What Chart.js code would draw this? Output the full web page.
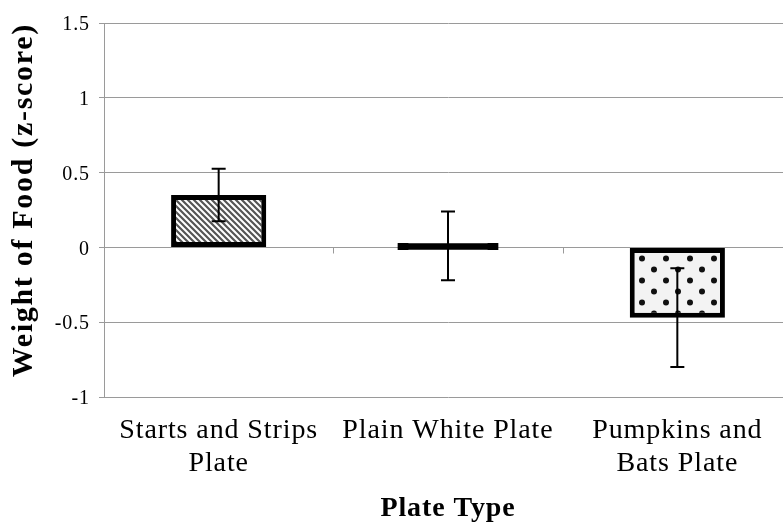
<!DOCTYPE html>
<html><head><meta charset="utf-8">
<script src="https://cdn.jsdelivr.net/npm/chart.js@4.4.0/dist/chart.umd.min.js"></script>
<style>
html,body{margin:0;padding:0;overflow:hidden;background:#fff;width:783px;height:524px}
#wrap{width:792px;height:524px}
</style></head>
<body><div id="wrap"><canvas id="c" width="792" height="524"></canvas></div>
<script>
// ---- data ----
const categories = [["Starts and Strips", "Plate"], ["Plain White Plate"], ["Pumpkins and", "Bats Plate"]];
const means = [0.35, 0.01, -0.47];
const errors = [0.175, 0.23, 0.33];
const yTicks = [-1, -0.5, 0, 0.5, 1, 1.5];
const yTickLabels = ["-1", "-0.5", "0", "0.5", "1", "1.5"];
const xTitle = "Plate Type";
const yTitle = "Weight of Food (z-score)";

// ---- fills ----
function stripePattern() {
  const c = document.createElement('canvas'); c.width = 6; c.height = 6;
  const g = c.getContext('2d');
  g.fillStyle = '#fff'; g.fillRect(0, 0, 6, 6);
  g.strokeStyle = '#555'; g.lineWidth = 2.2;
  g.beginPath();
  g.moveTo(-3, -3); g.lineTo(9, 9);
  g.moveTo(-3, 3); g.lineTo(3, 9);
  g.moveTo(3, -3); g.lineTo(9, 3);
  g.stroke();
  return g.createPattern(c, 'repeat');
}
function dotPattern() {
  const c = document.createElement('canvas'); c.width = 24; c.height = 22;
  const g = c.getContext('2d');
  g.fillStyle = '#f3f3f3'; g.fillRect(0, 0, 24, 22);
  g.fillStyle = '#111';
  [[6, 5.5], [18, 16.5], [30, 16.5], [-6, 16.5], [18, -5.5], [6, 27.5]].forEach(([x, y]) => {
    g.beginPath(); g.arc(x, y, 3, 0, Math.PI * 2); g.fill();
  });
  return g.createPattern(c, 'repeat');
}

const GRID = '#9a9a9a';

const errorBars = {
  id: 'errorBars',
  afterDatasetsDraw(chart) {
    const meta = chart.getDatasetMeta(0);
    const ys = chart.scales.y;
    const ctx = chart.ctx;
    ctx.save();
    ctx.strokeStyle = '#000';
    ctx.lineWidth = 2;
    meta.data.forEach((bar, i) => {
      const x = bar.x;
      const yt = ys.getPixelForValue(means[i] + errors[i]);
      const yb = ys.getPixelForValue(means[i] - errors[i]);
      ctx.beginPath();
      ctx.moveTo(x, yt); ctx.lineTo(x, yb);
      ctx.moveTo(x - 7, yt); ctx.lineTo(x + 7, yt);
      ctx.moveTo(x - 7, yb); ctx.lineTo(x + 7, yb);
      ctx.stroke();
    });
    ctx.restore();
  }
};

const zeroTicks = {
  id: 'zeroTicks',
  afterDraw(chart) {
    const xs = chart.scales.x, ys = chart.scales.y, ctx = chart.ctx;
    const y0 = Math.round(ys.getPixelForValue(0)) + 0.5;
    ctx.save();
    ctx.strokeStyle = GRID; ctx.lineWidth = 1;
    ctx.beginPath();
    for (let i = 0; i < categories.length - 1; i++) {
      const xb = Math.round((xs.getPixelForTick(i) + xs.getPixelForTick(i + 1)) / 2) + 0.5;
      ctx.moveTo(xb, y0); ctx.lineTo(xb, y0 + 6);
    }
    ctx.stroke();
    ctx.restore();
  }
};

// text tracking (the reference's serif text is slightly more widely spaced)
const tracking = {
  id: 'tracking',
  beforeDraw(chart) {
    chart.ctx.letterSpacing = '0.9px';
    const ys = chart.scales.y;
    if (ys && !ys._wrappedTitle) {
      const orig = ys.drawTitle;
      ys.drawTitle = function () {
        const ctx = this.ctx;
        const prev = ctx.letterSpacing;
        ctx.letterSpacing = '1.7px';
        orig.apply(this, arguments);
        ctx.letterSpacing = prev;
      };
      ys._wrappedTitle = true;
    }
  },
  afterDraw(chart) { chart.ctx.letterSpacing = '0px'; }
};

new Chart(document.getElementById('c'), {
  type: 'bar',
  data: {
    labels: categories,
    datasets: [{
      data: means,
      backgroundColor: [stripePattern(), '#000', dotPattern()],
      borderColor: '#000',
      borderWidth: 5,
      borderSkipped: false,
      inflateAmount: [0, 3, 0],
      barPercentage: 0.415,
      categoryPercentage: 1
    }]
  },
  options: {
    responsive: false,
    animation: false,
    events: [],
    layout: { padding: { top: 23, left: 0, right: 0, bottom: 0 } },
    plugins: { legend: { display: false }, tooltip: { enabled: false } },
    scales: {
      x: {
        grid: { display: false, drawTicks: false },
        border: { display: false },
        ticks: {
          color: '#000', padding: 18, maxRotation: 0, autoSkip: false,
          font: { family: 'Liberation Serif', size: 28, lineHeight: 1.15 }
        },
        title: {
          display: true, text: xTitle, color: '#000',
          font: { family: 'Liberation Serif', size: 28, weight: 'bold', lineHeight: 1.1 },
          padding: { top: 0, bottom: 0 }
        },
        afterFit(s) { s.height = 127; }
      },
      y: {
        min: -1, max: 1.5,
        afterBuildTicks(s) { s.ticks = yTicks.map(v => ({ value: v })); },
        grid: { color: GRID, tickLength: 5, drawTicks: true },
        border: { color: GRID },
        ticks: {
          color: '#000', padding: 9, labelOffset: 2,
          font: { family: 'Liberation Serif', size: 20 },
          callback(v) { const i = yTicks.indexOf(v); return i >= 0 ? yTickLabels[i] : ''; }
        },
        title: {
          display: true, text: yTitle, color: '#000', align: 'end',
          font: { family: 'Liberation Serif', size: 30, weight: 'bold', lineHeight: 1.2 },
          padding: { top: 6, bottom: 0 }
        },
        afterFit(s) { s.width = 104; }
      }
    }
  },
  plugins: [tracking, errorBars, zeroTicks]
});
</script>
</body></html>
